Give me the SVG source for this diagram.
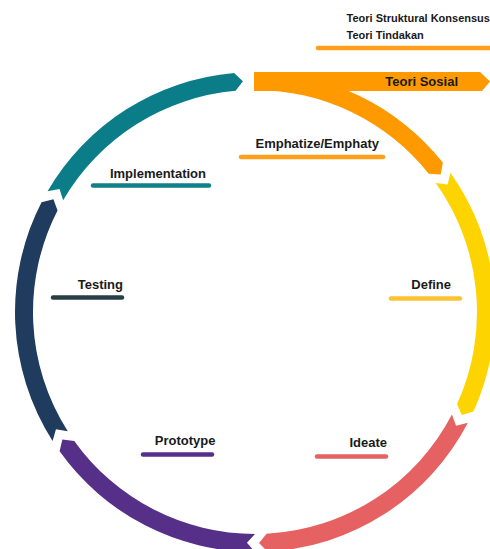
<svg xmlns="http://www.w3.org/2000/svg" width="490" height="549" viewBox="0 0 490 549">
  <style>
    .lbl { font-family: "Liberation Sans", Arial, sans-serif; font-weight: bold; font-size: 13px; fill: #1a1a1a; text-anchor: end; }
    .small { font-family: "Liberation Sans", Arial, sans-serif; font-weight: bold; font-size: 11px; fill: #1a1a1a; }
    .bar { fill: none; stroke-width: 4.5; stroke-linecap: round; }
  </style>
  <rect width="490" height="549" fill="#ffffff"/>

  <!-- ring segments: center (255,312), outer r 240, inner r 222 -->
  <g id="empathize">
    <path d="M255 72 A240 240 0 0 1 442.83 162.60 L440.69 174.60 L428.74 173.80 A222 222 0 0 0 255 90 Z" fill="#FF9900"/>
    <line class="bar" x1="241" y1="157" x2="383" y2="157" stroke="#FF9F1A"/>
    <text class="lbl" x="379" y="147.5">Emphatize/Emphaty</text>
  </g>

  <g id="teori-sosial">
    <polygon points="254,72 480,72 490,81.5 482,91 254,91" fill="#FF9900"/>
    <text class="lbl" x="458" y="86">Teori Sosial</text>
    <line class="bar" x1="318" y1="48" x2="492" y2="48" stroke="#FF9F1A"/>
    <text class="small" x="346.5" y="21.5">Teori Struktural Konsensus</text>
    <text class="small" x="346.5" y="38.5">Teori Tindakan</text>
  </g>

  <g id="define">
    <path d="M450.39 172.63 A240 240 0 0 1 473.39 411.53 L461.73 415.07 L457.01 404.06 A222 222 0 0 0 435.73 183.08 L447.63 184.50 Z" fill="#FDD400"/>
    <line class="bar" x1="391" y1="298.5" x2="460" y2="298.5" stroke="#FFC232"/>
    <text class="lbl" x="451" y="289">Define</text>
  </g>

  <g id="ideate">
    <path d="M467.88 422.82 A240 240 0 0 1 267.56 551.67 L259.03 542.97 L266.62 533.70 A222 222 0 0 0 451.92 414.51 L456.05 425.75 Z" fill="#E56162"/>
    <line class="bar" x1="317" y1="456.5" x2="386" y2="456.5" stroke="#E56162"/>
    <text class="lbl" x="387" y="446.5">Ideate</text>
  </g>

  <g id="prototype">
    <path d="M255 552 A240 240 0 0 1 59.61 451.37 L62.37 439.50 L74.27 440.92 A222 222 0 0 0 255 534 L246.94 542.86 Z" fill="#552F88"/>
    <line class="bar" x1="143" y1="454.5" x2="212" y2="454.5" stroke="#552F88"/>
    <text class="lbl" x="215.5" y="444.5">Prototype</text>
  </g>

  <g id="testing">
    <path d="M52.59 440.95 A240 240 0 0 1 41.54 202.31 L53.40 199.23 L57.55 210.53 A222 222 0 0 0 67.77 431.28 L55.96 429.24 Z" fill="#1F3B5E"/>
    <line class="bar" x1="53" y1="297.5" x2="122" y2="297.5" stroke="#2A3E46"/>
    <text class="lbl" x="123" y="289">Testing</text>
  </g>

  <g id="implementation">
    <path d="M47.58 191.28 A240 240 0 0 1 234.08 72.91 L242.91 81.32 L235.65 90.85 A222 222 0 0 0 63.13 200.33 L59.53 188.90 Z" fill="#0A7D88"/>
    <line class="bar" x1="93" y1="185.5" x2="209" y2="185.5" stroke="#127F88"/>
    <text class="lbl" x="206" y="177.5">Implementation</text>
  </g>

  <g id="connectors"></g>
</svg>
